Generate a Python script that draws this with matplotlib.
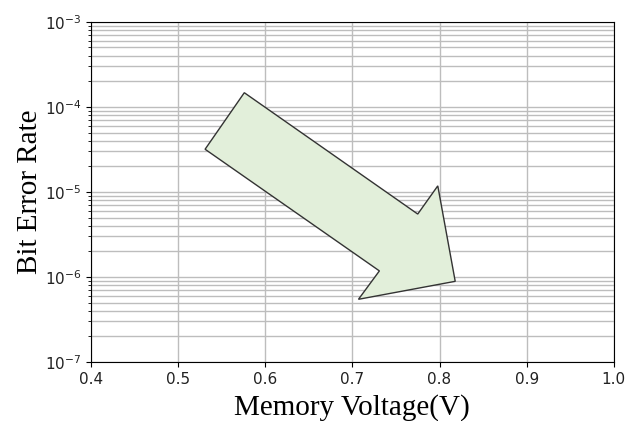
import matplotlib.pyplot as plt
from matplotlib.patches import Polygon
import numpy as np

# arrow outline in data coords (voltage, bit error rate)
arrow_v = [0.576, 0.775, 0.798, 0.818, 0.707, 0.731, 0.531]
arrow_ber = [1.47e-4, 5.5e-6, 1.18e-5, 8.9e-7, 5.47e-7, 1.18e-6, 3.18e-5]

x_ticks = [0.4, 0.5, 0.6, 0.7, 0.8, 0.9, 1.0]

fig = plt.figure(figsize=(6.27, 4.21), dpi=100)
ax = fig.add_axes([0.145, 0.140, 0.834, 0.808])

ax.set_yscale("log")
ax.set_xlim(0.4, 1.0)
ax.set_ylim(1e-7, 1e-3)
ax.set_xticks(x_ticks)
ax.set_xticklabels([f"{v:.1f}" for v in x_ticks])

ax.grid(True, which="major", axis="both", color="#bdbdbd", lw=1)
ax.grid(True, which="minor", axis="y", color="#bdbdbd", lw=1)
ax.set_axisbelow(True)

arrow = Polygon(np.column_stack([arrow_v, arrow_ber]), closed=True,
                facecolor="#e2efda", edgecolor="#333333", lw=1, zorder=3)
ax.add_patch(arrow)

ax.tick_params(labelsize=11, labelcolor="#222222")
ax.set_xlabel("Memory Voltage(V)", family="Liberation Serif", fontsize=21, labelpad=5)
ax.set_ylabel("Bit Error Rate", family="Liberation Serif", fontsize=21, labelpad=1)

fig.savefig("out.png", dpi=100)
